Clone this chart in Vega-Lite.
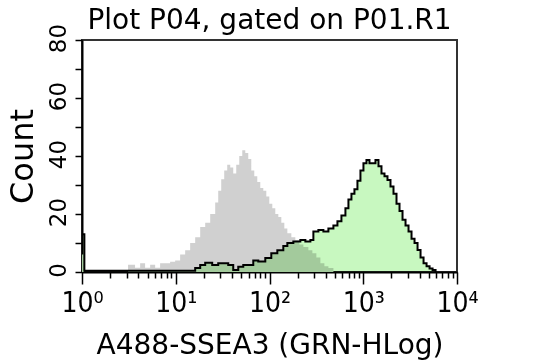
{
  "$schema": "https://vega.github.io/schema/vega-lite/v6.json",
  "width": 375,
  "height": 232,
  "autosize": {"type": "none"},
  "padding": {"left": 82, "top": 40, "right": 80, "bottom": 88},
  "background": "white",
  "config": {
    "view": {"stroke": "#333333", "strokeWidth": 2},
    "axis": {"grid": false, "domainColor": "black", "domainWidth": 2, "tickColor": "black", "tickWidth": 1.5, "labelColor": "black", "titleColor": "black", "titleFontWeight": "normal", "labelFont": "DejaVu Sans", "titleFont": "DejaVu Sans"}
  },
  "title": {"text": "Plot P04, gated on P01.R1", "font": "DejaVu Sans", "fontSize": 28, "fontWeight": "normal", "color": "black", "anchor": "middle", "baseline": "alphabetic", "offset": 8, "dy": 42},
  "datasets": {
    "gray": [
      {"v": 1, "c": 6}, {"v": 1.05, "c": 0},
      {"v": 3.1, "c": 2.5}, {"v": 3.68, "c": 1.5}, {"v": 4.17, "c": 3}, {"v": 4.71, "c": 1.5}, {"v": 5.33, "c": 2.5}, {"v": 6.03, "c": 1.5}, {"v": 6.81, "c": 3}, {"v": 8.71, "c": 3.5}, {"v": 9.85, "c": 4}, {"v": 11.14, "c": 6}, {"v": 12.6, "c": 7.5}, {"v": 14.25, "c": 10}, {"v": 16.12, "c": 12}, {"v": 18.23, "c": 15.5}, {"v": 20.61, "c": 17}, {"v": 23.31, "c": 20}, {"v": 26.36, "c": 24}, {"v": 28.38, "c": 28}, {"v": 30.55, "c": 32}, {"v": 32.89, "c": 35}, {"v": 35.41, "c": 37}, {"v": 38.12, "c": 36}, {"v": 41.04, "c": 34}, {"v": 44.19, "c": 37}, {"v": 47.58, "c": 40}, {"v": 51.22, "c": 42}, {"v": 55.15, "c": 41}, {"v": 59.36, "c": 39}, {"v": 63.91, "c": 35}, {"v": 68.81, "c": 33}, {"v": 74.08, "c": 31}, {"v": 79.75, "c": 29}, {"v": 85.86, "c": 28}, {"v": 92.43, "c": 26}, {"v": 99.52, "c": 23.5}, {"v": 107.1, "c": 22}, {"v": 115.3, "c": 20}, {"v": 124.2, "c": 19}, {"v": 133.7, "c": 17}, {"v": 143.9, "c": 15}, {"v": 155, "c": 13.4}, {"v": 171, "c": 12}, {"v": 188.6, "c": 11}, {"v": 208.2, "c": 9.5}, {"v": 229.7, "c": 8.6}, {"v": 259.7, "c": 7.5}, {"v": 286.6, "c": 6.5}, {"v": 316.2, "c": 5}, {"v": 348.9, "c": 3}, {"v": 385, "c": 2}, {"v": 424.9, "c": 1.4}, {"v": 480.5, "c": 0}
    ],
    "green": [
      {"v": 1, "c": 13}, {"v": 1.06, "c": 0.4}, {"v": 16.12, "c": 1.4}, {"v": 18.23, "c": 2.4}, {"v": 20.61, "c": 3.2}, {"v": 24.48, "c": 2.4}, {"v": 28.38, "c": 3}, {"v": 32.89, "c": 3}, {"v": 36.29, "c": 2.4}, {"v": 41.04, "c": 0.7}, {"v": 46.42, "c": 1.8}, {"v": 52.5, "c": 2.4}, {"v": 62.36, "c": 2.4}, {"v": 67.13, "c": 4}, {"v": 75.91, "c": 3.6}, {"v": 90.18, "c": 4.8}, {"v": 104.5, "c": 6.5}, {"v": 121.2, "c": 7.5}, {"v": 140.4, "c": 9}, {"v": 155, "c": 10}, {"v": 179.6, "c": 10.5}, {"v": 213.3, "c": 11}, {"v": 241.3, "c": 10.5}, {"v": 272.9, "c": 11}, {"v": 293.8, "c": 14}, {"v": 332.2, "c": 14.5}, {"v": 375.6, "c": 14}, {"v": 424.9, "c": 15}, {"v": 480.5, "c": 16}, {"v": 530.4, "c": 17.5}, {"v": 585.1, "c": 19.5}, {"v": 645.4, "c": 22}, {"v": 695, "c": 25}, {"v": 748, "c": 27}, {"v": 805.4, "c": 28.5}, {"v": 867, "c": 31.5}, {"v": 933.4, "c": 35}, {"v": 1004.9, "c": 37.5}, {"v": 1082, "c": 38.6}, {"v": 1164.7, "c": 37.5}, {"v": 1254, "c": 37.5}, {"v": 1350, "c": 38.6}, {"v": 1453.6, "c": 36.5}, {"v": 1564.6, "c": 34}, {"v": 1684.6, "c": 33}, {"v": 1813.4, "c": 31.7}, {"v": 1952.6, "c": 29.5}, {"v": 2101.9, "c": 27}, {"v": 2263.2, "c": 23.5}, {"v": 2437, "c": 21}, {"v": 2623.4, "c": 18}, {"v": 2824.6, "c": 16}, {"v": 3040.5, "c": 14}, {"v": 3273.4, "c": 11.5}, {"v": 3524, "c": 10}, {"v": 3794.3, "c": 7.6}, {"v": 4084.2, "c": 5}, {"v": 4397.4, "c": 3}, {"v": 4734, "c": 2}, {"v": 5096.8, "c": 1.2}, {"v": 5487.3, "c": 0.7}, {"v": 5907.5, "c": 0}
    ]
  },
  "encoding": {
    "x": {
      "field": "v", "type": "quantitative",
      "scale": {"type": "log", "domain": [1, 10000], "nice": false},
      "axis": {
        "title": "A488-SSEA3 (GRN-HLog)",
        "titleFontSize": 28, "titleY": 81, "titleBaseline": "alphabetic",
        "values": [1,2,3,4,5,6,7,8,9,10,20,30,40,50,60,70,80,90,100,200,300,400,500,600,700,800,900,1000,2000,3000,4000,5000,6000,7000,8000,9000,10000],
        "labelExpr": "datum.value == 1 ? '10⁰' : datum.value == 10 ? '10¹' : datum.value == 100 ? '10²' : datum.value == 1000 ? '10³' : datum.value == 10000 ? '10⁴' : ''",
        "labelFont": "Liberation Sans Narrow, DejaVu Sans Condensed, DejaVu Sans",
        "labelFontSize": 28, "labelPadding": 5, "labelOverlap": false, "labelFlush": false, "labelBaseline": "top",
        "tickSize": {"condition": {"test": "datum.value == 1 || datum.value == 10 || datum.value == 100 || datum.value == 1000 || datum.value == 10000", "value": 12}, "value": 6}
      }
    },
    "y": {
      "field": "c", "type": "quantitative",
      "scale": {"domain": [0, 80], "nice": false},
      "axis": {
        "title": "Count", "titleFontSize": 32, "titleX": -50, "titleY": 116, "titleAngle": 270, "titleAlign": "center", "titleBaseline": "alphabetic",
        "values": [0,10,20,30,40,50,60,70,80],
        "labelExpr": "datum.value % 20 == 0 ? datum.label : ''",
        "labelAngle": 270, "labelAlign": "center", "labelBaseline": "alphabetic", "labelOffset": -2,
        "labelFontSize": 23, "labelPadding": 10, "tickSize": 7, "labelOverlap": false, "labelFlush": false
      }
    }
  },
  "layer": [
    {"data": {"name": "gray"}, "mark": {"type": "area", "interpolate": "step-after", "color": "#d0d0d0"}},
    {"data": {"name": "green"}, "mark": {"type": "area", "interpolate": "step-after", "color": "#c8f8c0", "blend": "multiply"}},
    {"data": {"name": "green"}, "mark": {"type": "line", "interpolate": "step-after", "color": "black", "strokeWidth": 2}}
  ]
}
